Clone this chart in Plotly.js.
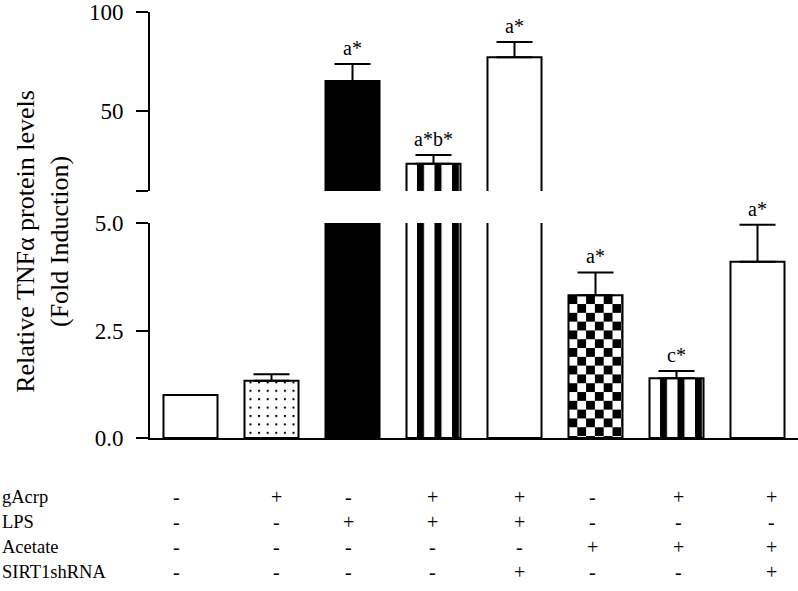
<!DOCTYPE html>
<html>
<head>
<meta charset="utf-8">
<script src="https://cdn.plot.ly/plotly-3.0.1.min.js"></script>
<style>html,body{margin:0;padding:0;background:#fff;}#chart{width:798px;height:591px;}</style>
</head>
<body>
<div id="chart"></div>
<script>
// ---- data ----
const groups = [0, 1, 2, 3, 4, 5, 6, 7];
const values = [1.0, 1.33, 65.4, 23.5, 77.3, 3.32, 1.39, 4.1];
const errors = [null, 0.15, 8.6, 4.5, 7.8, 0.53, 0.17, 0.86];
const sigLabels = ['', '', 'a*', 'a*b*', 'a*', 'a*', 'c*', 'a*'];
const rowNames = ['gAcrp', 'LPS', 'Acetate', 'SIRT1shRNA'];
const gAcrp = ['-', '+', '-', '+', '+', '-', '+', '+'];
const LPS = ['-', '-', '+', '+', '+', '-', '-', '-'];
const Acetate = ['-', '-', '-', '-', '-', '+', '+', '+'];
const SIRT1shRNA = ['-', '-', '-', '-', '+', '-', '-', '+'];
const lowerTicks = [0, 2.5, 5];
const lowerTickText = ['0.0', '2.5', '5.0'];
const upperTicks = [10, 50, 100];
const upperTickText = ['', '50', '100'];

// ---- styles ----
const FONT = 'Liberation Serif, Times New Roman, serif';
const fills = ['white', 'white', 'black', 'white', 'white', 'white', 'white', 'white'];
const fillKind = ['', 'dots', '', 'stripes', '', 'checker', 'stripes', ''];
const colShift = [-14, 5, -4, -1, 5, -3, 2, 14];
const BREAK = 5;
const PH = 591 - 12 - 153; // plot height in px

function barTrace(xa, ya) {
  return {
    type: 'bar', x: groups, y: values, xaxis: xa, yaxis: ya, width: 0.667,
    marker: {color: fills, line: {color: 'black', width: 2}},
    error_y: {type: 'data', symmetric: false, array: errors, arrayminus: errors.map(() => 0),
              color: 'black', thickness: 2, width: 18},
    hoverinfo: 'skip', showlegend: false, cliponaxis: true
  };
}

const annotations = [];
groups.forEach((g, i) => {
  if (!sigLabels[i]) return;
  const top = values[i] + (errors[i] || 0);
  annotations.push({
    x: g, y: top, xref: 'x', yref: values[i] > BREAK ? 'y2' : 'y',
    text: sigLabels[i], showarrow: false, yanchor: 'bottom', yshift: 3,
    font: {family: FONT, size: 20, color: 'black'}
  });
});
// y title
annotations.push({
  xref: 'paper', yref: 'paper', x: -0.167, y: 197 / PH, xanchor: 'center', yanchor: 'middle', textangle: -90,
  text: 'Relative TNFα protein levels<br>(Fold Induction)', showarrow: false,
  font: {family: FONT, size: 26, color: 'black'}, align: 'center'
});
// treatment table
const rowsData = [gAcrp, LPS, Acetate, SIRT1shRNA];
rowNames.forEach((name, r) => {
  const yy = -(59 + 25 * r) / PH;
  annotations.push({xref: 'paper', yref: 'paper', x: -150 / 648, y: yy, xanchor: 'left', yanchor: 'middle',
    text: name, showarrow: false, font: {family: FONT, size: 18.5, color: 'black'}});
  rowsData[r].forEach((s, i) => {
    annotations.push({xref: 'x', yref: 'paper', x: groups[i], y: yy, xshift: colShift[i], xanchor: 'center', yanchor: 'middle',
      text: s, showarrow: false, font: {family: FONT, size: 20, color: 'black'}});
  });
});

const axisFont = {family: FONT, size: 23, color: 'black'};
const layout = {
  width: 798, height: 591,
  margin: {l: 150, r: 0, t: 12, b: 153},
  paper_bgcolor: 'white', plot_bgcolor: 'white',
  showlegend: false,
  xaxis: {domain: [0, 1], range: [-0.5, 7.5], anchor: 'y', showline: true, linecolor: 'black', linewidth: 2,
          showticklabels: false, ticks: '', showgrid: false, zeroline: false},
  xaxis2: {matches: 'x', anchor: 'y2', visible: false},
  yaxis: {domain: [0, 215 / PH], range: [0, 5], anchor: 'x', showline: true, linecolor: 'black', linewidth: 2,
          tickmode: 'array', tickvals: lowerTicks, ticktext: lowerTickText, ticks: 'outside', ticklen: 12, tickwidth: 2,
          tickcolor: 'black', showgrid: false, zeroline: false, tickfont: axisFont, ticklabelstandoff: 8,
          ticklabeloverflow: 'allow'},
  yaxis2: {domain: [247 / PH, 1], range: [9.8, 100.2], anchor: 'x2', showline: true, linecolor: 'black', linewidth: 2,
          tickmode: 'array', tickvals: upperTicks, ticktext: upperTickText, ticks: 'outside', ticklen: 12, tickwidth: 2,
          tickcolor: 'black', showgrid: false, zeroline: false, tickfont: axisFont, ticklabelstandoff: 8,
          ticklabeloverflow: 'allow'},
  annotations: annotations
};

Plotly.newPlot('chart', [barTrace('x', 'y'), barTrace('x2', 'y2')], layout, {staticPlot: true}).then(gd => {
  const svg = gd.querySelector('.main-svg');
  const defs = svg.querySelector('defs');
  const ns = 'http://www.w3.org/2000/svg';
  let nid = 0;
  function makePattern(kind, bx, by) {
    const pat = document.createElementNS(ns, 'pattern');
    const id = 'barfill' + (nid++);
    pat.setAttribute('id', id);
    pat.setAttribute('patternUnits', 'userSpaceOnUse');
    const rect = (x, y, w, h, c) => { const r = document.createElementNS(ns, 'rect');
      r.setAttribute('x', x); r.setAttribute('y', y); r.setAttribute('width', w); r.setAttribute('height', h);
      r.setAttribute('fill', c); pat.appendChild(r); };
    if (kind === 'checker') {
      pat.setAttribute('width', 17.6); pat.setAttribute('height', 17.6);
      pat.setAttribute('x', bx); pat.setAttribute('y', by);
      rect(0, 0, 17.6, 17.6, 'white'); rect(0, 0, 8.8, 8.8, 'black'); rect(8.8, 8.8, 8.8, 8.8, 'black');
    } else if (kind === 'stripes') {
      pat.setAttribute('width', 17.5); pat.setAttribute('height', 10);
      pat.setAttribute('x', bx + 10.5); pat.setAttribute('y', 0);
      rect(0, 0, 17.5, 10, 'white'); rect(0, 0, 7, 10, 'black');
    } else if (kind === 'dots') {
      pat.setAttribute('width', 8.6); pat.setAttribute('height', 8.4);
      pat.setAttribute('x', bx + 5); pat.setAttribute('y', by + 9);
      rect(0, 0, 8.6, 8.4, 'white'); rect(0, 0, 2, 2, 'black');
    }
    defs.appendChild(pat);
    return id;
  }
  gd.querySelectorAll('.barlayer .trace').forEach(tr => {
    const pts = tr.querySelectorAll('.point path');
    pts.forEach((p, i) => {
      const kind = fillKind[i];
      if (!kind) return;
      const bb = p.getBBox();
      const id = makePattern(kind, bb.x, bb.y);
      p.style.fill = 'url(#' + id + ')';
    });
  });
});
</script>
</body>
</html>
